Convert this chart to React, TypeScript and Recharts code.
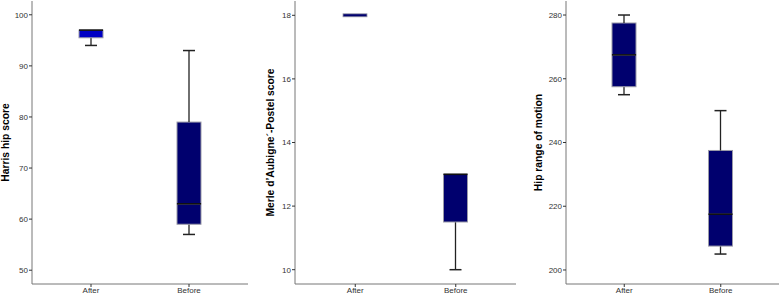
import React from "react";
import { ComposedChart, Bar, XAxis, YAxis, Cell } from "recharts";

const categories = ["After", "Before"];

// Harris hip score
const harrisMin = [94, 57];
const harrisQ1 = [95.5, 59];
const harrisMedian = [97, 63];
const harrisQ3 = [97, 79];
const harrisMax = [97, 93];
const harrisTicks = [50, 60, 70, 80, 90, 100];

// Merle d'Aubigne-Postel score
const merleMin = [18, 10];
const merleQ1 = [18, 11.5];
const merleMedian = [18, 13];
const merleQ3 = [18, 13];
const merleMax = [18, 13];
const merleTicks = [10, 12, 14, 16, 18];

// Hip range of motion
const romMin = [255, 205];
const romQ1 = [257.5, 207.5];
const romMedian = [267.5, 217.5];
const romQ3 = [277.5, 237.5];
const romMax = [280, 250];
const romTicks = [200, 220, 240, 260, 280];

const buildRows = (mn: number[], q1: number[], md: number[], q3: number[], mx: number[]) =>
  categories.map((name, i) => ({
    name,
    base: mn[i],
    lowW: q1[i] - mn[i],
    lowBox: md[i] - q1[i],
    highBox: q3[i] - md[i],
    highW: mx[i] - q3[i],
    q1: q1[i],
    q3: q3[i],
  }));

const NAVY = "#00006e";
const BRIGHT = "#0000c4";
const EDGE = "#9a9aa8";
const WHISKER = "#222";
const FONT = "Liberation Sans, Arial, sans-serif";

const LowWhisker = (p: any) => {
  const { x, y, width, height } = p;
  if (!height) return <g />;
  const cx = x + width / 2;
  return (
    <g>
      <line x1={cx} x2={cx} y1={y} y2={y + height} stroke={WHISKER} strokeWidth={1.3} />
      <line x1={cx - width / 4} x2={cx + width / 4} y1={y + height} y2={y + height} stroke={WHISKER} strokeWidth={1.5} />
    </g>
  );
};

const HighWhisker = (p: any) => {
  const { x, y, width, height } = p;
  if (!height) return <g />;
  const cx = x + width / 2;
  return (
    <g>
      <line x1={cx} x2={cx} y1={y} y2={y + height} stroke={WHISKER} strokeWidth={1.3} />
      <line x1={cx - width / 4} x2={cx + width / 4} y1={y} y2={y} stroke={WHISKER} strokeWidth={1.5} />
    </g>
  );
};

const LowBox = (p: any) => {
  const { x, y, width, height, fill } = p;
  if (!height) return <g />;
  return <rect x={x} y={y} width={width} height={height} fill={fill} stroke={EDGE} strokeWidth={1} />;
};

const HighBox = (p: any) => {
  const { x, y, width, height, fill, payload } = p;
  if (payload.q1 === payload.q3) {
    return <rect x={x} y={y - 1.5} width={width} height={3} fill={fill} stroke={EDGE} strokeWidth={0.8} />;
  }
  return (
    <g>
      {height > 0 && <rect x={x} y={y} width={width} height={height} fill={fill} stroke={EDGE} strokeWidth={1} />}
      <line x1={x} x2={x + width} y1={y + height} y2={y + height} stroke="#111" strokeWidth={1.6} />
    </g>
  );
};

const AxisTitle = ({ viewBox, text, offset }: any) => {
  const cx = viewBox.x + offset;
  const cy = viewBox.y + viewBox.height / 2;
  return (
    <text
      x={cx}
      y={cy}
      transform={`rotate(-90 ${cx} ${cy})`}
      textAnchor="middle"
      dominantBaseline="central"
      fontSize={10.3}
      fontWeight="bold"
      fill="#000"
      fontFamily={FONT}
    >
      {text}
    </text>
  );
};

type PanelProps = {
  left: number;
  width: number;
  axisWidth: number;
  labelOffset: number;
  label: string;
  rows: any[];
  ticks: number[];
  domain: [number, number];
  fills: string[];
};

const tickStyle = { fontSize: 8, fill: "#333", fontFamily: FONT };

const Panel = ({ left, width, axisWidth, labelOffset, label, rows, ticks, domain, fills }: PanelProps) => (
  <div style={{ position: "absolute", left, top: 0 }}>
    <ComposedChart
      width={width}
      height={296}
      data={rows}
      margin={{ top: 1, right: 2, left: 0, bottom: 0 }}
      barSize={24}
    >
      <XAxis
        dataKey="name"
        height={12}
        padding={{ left: 10, right: 10 }}
        tick={tickStyle}
        tickSize={3}
        tickMargin={0}
        interval={0}
        axisLine={{ stroke: "#777" }}
        tickLine={{ stroke: "#333" }}
      />
      <XAxis xAxisId="top" dataKey="name" orientation="top" height={0} tick={false} tickLine={false} axisLine={{ stroke: "#999" }} />
      <YAxis
        type="number"
        domain={domain}
        allowDataOverflow
        ticks={ticks}
        width={axisWidth}
        tick={tickStyle}
        tickSize={3}
        tickMargin={1}
        axisLine={{ stroke: "#777" }}
        tickLine={{ stroke: "#333" }}
        label={(props: any) => <AxisTitle {...props} text={label} offset={labelOffset} />}
      />
      <YAxis yAxisId="right" orientation="right" width={0} tick={false} tickLine={false} axisLine={{ stroke: "#999" }} />
      <Bar dataKey="base" stackId="b" fill="transparent" isAnimationActive={false} />
      <Bar dataKey="lowW" stackId="b" shape={LowWhisker} isAnimationActive={false} />
      <Bar dataKey="lowBox" stackId="b" shape={LowBox} isAnimationActive={false}>
        {rows.map((r, i) => (
          <Cell key={r.name} fill={fills[i]} />
        ))}
      </Bar>
      <Bar dataKey="highBox" stackId="b" shape={HighBox} isAnimationActive={false}>
        {rows.map((r, i) => (
          <Cell key={r.name} fill={fills[i]} />
        ))}
      </Bar>
      <Bar dataKey="highW" stackId="b" shape={HighWhisker} isAnimationActive={false} />
    </ComposedChart>
  </div>
);

export default function App() {
  return (
    <div style={{ position: "absolute", left: 0, top: 0, width: 783, height: 296, background: "#fff" }}>
      <Panel
        left={0}
        width={250}
        axisWidth={32}
        labelOffset={5}
        label="Harris hip score"
        rows={buildRows(harrisMin, harrisQ1, harrisMedian, harrisQ3, harrisMax)}
        ticks={harrisTicks}
        domain={[47.3, 102.7]}
        fills={[BRIGHT, NAVY]}
      />
      <Panel
        left={258}
        width={260}
        axisWidth={37}
        labelOffset={12}
        label="Merle d’Aubigne´-Postel score"
        rows={buildRows(merleMin, merleQ1, merleMedian, merleQ3, merleMax)}
        ticks={merleTicks}
        domain={[9.55, 18.45]}
        fills={[NAVY, NAVY]}
      />
      <Panel
        left={524}
        width={257}
        axisWidth={42}
        labelOffset={14}
        label="Hip range of motion"
        rows={buildRows(romMin, romQ1, romMedian, romQ3, romMax)}
        ticks={romTicks}
        domain={[195.6, 284.4]}
        fills={[NAVY, NAVY]}
      />
    </div>
  );
}
